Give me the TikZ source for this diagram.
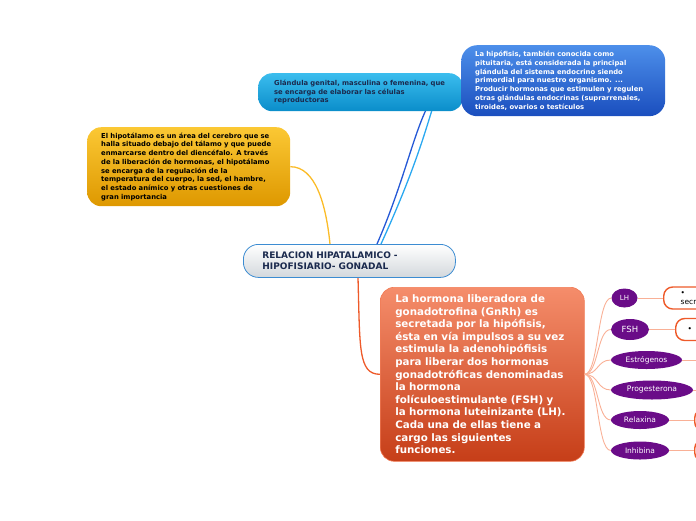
\documentclass[tikz,border=0pt]{standalone}
\usepackage{fontspec}
\setmainfont{DejaVu Sans}
\usetikzlibrary{shapes.geometric,calc,backgrounds}
\definecolor{yeltop}{HTML}{FBC834}
\definecolor{yelbot}{HTML}{DE9800}
\definecolor{yelline}{HTML}{FBBC28}
\definecolor{cyatop}{HTML}{3BBDEE}
\definecolor{cyabot}{HTML}{0A8DCA}
\definecolor{cyaline}{HTML}{2AA8F0}
\definecolor{blutop}{HTML}{4D8FEA}
\definecolor{blubot}{HTML}{1A4EBE}
\definecolor{bluline}{HTML}{2458D6}
\definecolor{oratop}{HTML}{F58D6B}
\definecolor{orabot}{HTML}{C63E18}
\definecolor{oraline}{HTML}{EE5A2A}
\definecolor{fanline}{HTML}{F9B096}
\definecolor{purp}{HTML}{6A0C88}
\definecolor{navy}{HTML}{1B2A4E}
\definecolor{cenbot}{HTML}{D3D8DC}
\definecolor{cenline}{HTML}{3C8CD2}
\begin{document}
\begin{tikzpicture}[x=1pt,y=-1pt,
		card/.style={rounded corners=14pt,anchor=north west,align=left,inner ysep=0pt,font=\fontsize{6.8}{8.7}\selectfont\bfseries},
		horm/.style={ellipse,fill=purp,text=white,inner sep=0pt},
		func/.style={draw=oraline,line width=1.4pt,fill=white,rounded corners=9pt,anchor=west,align=left,inner ysep=0pt,minimum height=22pt,font=\fontsize{7.5}{9}\selectfont},
		link/.style={line width=0.9pt,fanline}]
	\useasboundingbox (0,0) rectangle (696,520);
	\clip (0,0) rectangle (696,520);
	\node[card,top color=yeltop,bottom color=yelbot,minimum width=203pt,minimum height=79pt,text width=175pt,inner xsep=14pt] (yel) at (87,127) {El hipotálamo es un área del cerebro que se\\halla situado debajo del tálamo y que puede\\enmarcarse dentro del diencéfalo. A través\\de la liberación de hormonas, el hipotálamo\\se encarga de la regulación de la\\temperatura del cuerpo, la sed, el hambre,\\el estado anímico y otras cuestiones de\\gran importancia};
	\node[card,top color=cyatop,bottom color=cyabot,text=navy,minimum width=205pt,minimum height=38pt,text width=173pt,inner xsep=16pt] (cya) at (258,73) {Glándula genital, masculina o femenina, que\\se encarga de elaborar las células\\reproductoras};
	\node[card,top color=blutop,bottom color=blubot,text=white,rounded corners=16pt,minimum width=204pt,minimum height=71pt,text width=176pt,inner xsep=14pt] (blu) at (461,45) {La hipófisis, también conocida como\\pituitaria, está considerada la principal\\glándula del sistema endocrino siendo\\primordial para nuestro organismo. ...\\Producir hormonas que estimulen y regulen\\otras glándulas endocrinas (suprarrenales,\\tiroides, ovarios o testículos};
	\node[card,top color=white,bottom color=cenbot,draw=cenline,line width=0.8pt,text=navy,rounded corners=15pt,minimum width=212pt,minimum height=33pt,text width=174pt,inner xsep=19pt,font=\fontsize{9}{11}\selectfont\bfseries] (cen) at (243,244) {RELACION HIPATALAMICO -\\HIPOFISIARIO- GONADAL};
	\node[card,top color=oratop,bottom color=orabot,draw=oraline!80,line width=0.6pt,text=white,minimum width=204pt,minimum height=174pt,text width=174pt,inner xsep=15pt,font=\fontsize{10.3}{12.6}\selectfont\bfseries] (ora) at (380,287) {La hormona liberadora de\\gonadotrofina (GnRh) es\\secretada por la hipófisis,\\ésta en vía impulsos a su vez\\estimula la adenohipófisis\\para liberar dos hormonas\\gonadotróficas denominadas\\la hormona\\folículoestimulante (FSH) y\\la hormona luteinizante (LH).\\Cada una de ellas tiene a\\cargo las siguientes\\funciones.};
	\begin{scope}[on background layer]
		\draw[yelline,line width=1.3pt] (yel.east) .. controls +(25,0) and +(-4,-40) .. ($(cen.north west)+(87,0)$);
		\draw[bluline,line width=1.3pt] ($(cen.north west)+(134,0)$) .. controls (418,150) and (420,80) .. (blu.west);
		\draw[cyaline,line width=1.3pt] ($(cen.north west)+(138,0)$) .. controls (424,150) and (430,110) .. ($(cya.east)+(-25,0)$);
		\draw[oraline,line width=1.3pt] ($(cen.south west)+(115,0)$) .. controls +(2,70) and +(-22,0) .. (ora.west);
	\end{scope}
	\foreach \nm/\lbl/\cx/\cy/\w/\h/\fs in {lh/LH/624.5/298/26/19/7, fsh/FSH/630/329.5/38/21/8.5, est/Estrógenos/646.5/360/71/18/7.5, pro/Progesterona/652/390/82/19/7.6, rel/Relaxina/640/420/58/18/7.5, inh/Inhibina/640/450.5/58/18/7.5}{
		\node[horm,minimum width=\w pt,minimum height=\h pt,font=\fontsize{\fs}{\fs}\selectfont] (\nm) at (\cx,\cy) {\lbl};
		\draw[link] (ora.east) .. controls +(14,0) and +(-14,0) .. (\nm.west);
	}
	\node[func,text width=40pt,inner xsep=17pt] (lhbox) at (663,298) {•\\secr};
	\node[func,text width=20pt,inner xsep=12pt] (fshbox) at (675,329.5) {•};
	\node[func,text width=20pt] (relbox) at (694,420) {};
	\node[func,text width=20pt] (inhbox) at (694,450.5) {};
	\coordinate (estend) at (700,360);
	\coordinate (proend) at (700,390);
	\draw[link] (lh.east) -- (lhbox.west);
	\draw[link] (fsh.east) -- (fshbox.west);
	\draw[link] (est.east) -- (estend);
	\draw[link] (pro.east) -- (proend);
	\draw[link] (rel.east) -- (relbox.west);
	\draw[link] (inh.east) -- (inhbox.west);
\end{tikzpicture}
\end{document}
